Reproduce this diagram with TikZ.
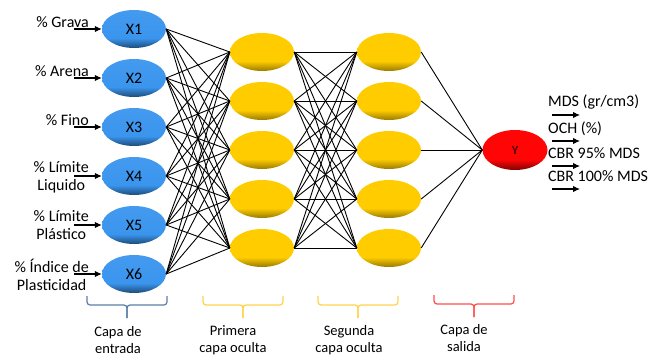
\documentclass[tikz,border=0pt]{standalone}
\usepackage{fontspec}
\setmainfont{Carlito}
\usetikzlibrary{arrows.meta,shapes.geometric}

\definecolor{inblue}{HTML}{3A95EE}
\definecolor{hidyellow}{HTML}{FFCC00}
\definecolor{outred}{HTML}{FF0505}
\definecolor{braceblue}{HTML}{5A7EA6}
\definecolor{braceyellow}{HTML}{FFD24D}
\definecolor{bracered}{HTML}{FF4D4D}

% flat fill with a darker rim at the bottom
\pgfdeclareverticalshading{bluebevel}{100bp}{color(0bp)=(inblue!50!black); color(25bp)=(inblue!50!black); color(38bp)=(inblue); color(75bp)=(inblue!95!white); color(100bp)=(inblue!95!white)}
\pgfdeclareverticalshading{yellowbevel}{100bp}{color(0bp)=(hidyellow!60!black); color(25bp)=(hidyellow!60!black); color(38bp)=(hidyellow); color(75bp)=(hidyellow); color(100bp)=(hidyellow)}
\pgfdeclareverticalshading{redbevel}{100bp}{color(0bp)=(outred!50!black); color(25bp)=(outred!50!black); color(38bp)=(outred); color(75bp)=(outred); color(100bp)=(outred)}

\tikzset{
    neuron/.style={shape=ellipse,inner sep=0pt,minimum width=64pt,minimum height=38pt,font=\fontsize{16}{18}\selectfont},
    inneuron/.style={neuron,shade,shading=bluebevel},
    hidneuron/.style={neuron,shade,shading=yellowbevel},
    outneuron/.style={neuron,shade,shading=redbevel},
    link/.style={draw=black,line width=0.9pt},
    feed/.style={line width=1.1pt,-{Latex[length=7pt,width=6.5pt]}},
    inlabel/.style={anchor=north east,inner sep=0pt,align=center,font=\fontsize{16}{18}\selectfont},
    outlabel/.style={anchor=base west,inner sep=0pt,font=\fontsize{16}{18}\selectfont},
    layerbrace/.style={line width=1.2pt,rounded corners=3pt},
    layerlabel/.style={align=center,inner sep=0pt}
}

\begin{document}
\begin{tikzpicture}[x=1pt,y=-1pt,font=\fontsize{14.5}{17.5}\selectfont]
    \useasboundingbox (0,0) rectangle (653,356);

    % input layer
    \node[inneuron] (x1) at (134,29) {X1};
    \node[inneuron] (x2) at (134,78) {X2};
    \node[inneuron] (x3) at (134,127) {X3};
    \node[inneuron] (x4) at (134,176) {X4};
    \node[inneuron] (x5) at (134,225) {X5};
    \node[inneuron] (x6) at (134,274) {X6};

    % first hidden layer
    \node[hidneuron] (h1) at (262,52) {};
    \node[hidneuron] (h2) at (262,101) {};
    \node[hidneuron] (h3) at (262,150) {};
    \node[hidneuron] (h4) at (262,199) {};
    \node[hidneuron] (h5) at (262,248) {};

    % second hidden layer
    \node[hidneuron] (k1) at (389,52) {};
    \node[hidneuron] (k2) at (389,101) {};
    \node[hidneuron] (k3) at (389,150) {};
    \node[hidneuron] (k4) at (389,199) {};
    \node[hidneuron] (k5) at (389,248) {};

    % output layer
    \node[outneuron,minimum width=65pt,minimum height=40pt,font=\fontsize{12.5}{14}\selectfont\bfseries,text=red!30!black] (y) at (515,150) {Y};

    % edges
    \foreach \i in {1,...,6}
        \foreach \j in {1,...,5}
            \path[link] (x\i.east) -- (h\j.west);
    \foreach \i in {1,...,5}
        \foreach \j in {1,...,5}
            \path[link] (h\i.east) -- (k\j.west);
    \foreach \i in {1,...,5}
        \path[link] (k\i.east) -- (y.west);

    % inputs
    \coordinate (g1) at (74,29);
    \coordinate (g2) at (74,78);
    \coordinate (g3) at (74,127);
    \coordinate (g4) at (74,176);
    \coordinate (g5) at (74,225);
    \coordinate (g6) at (74,274);
    \node[inlabel] (l1) at (89,16.5) {\% Grava};
    \node[inlabel] (l2) at (89,65.5) {\% Arena};
    \node[inlabel] (l3) at (89,114.5) {\% Fino};
    \node[inlabel] (l4) at (89,161) {\% Límite\\Liquido};
    \node[inlabel] (l5) at (89,210) {\% Límite\\Plástico};
    \node[inlabel] (l6) at (89,259) {\% Índice de\\Plasticidad};
    \path[feed] (g1) edge (x1.west);
    \path[feed] (g2) edge (x2.west);
    \path[feed] (g3) edge (x3.west);
    \path[feed] (g4) edge (x4.west);
    \path[feed] (g5) edge (x5.west);
    \path[feed] (g6) edge (x6.west);

    % outputs
    \coordinate (o1) at (552,115);
    \coordinate (o2) at (552,141);
    \coordinate (o3) at (552,166);
    \coordinate (o4) at (552,189);
    \coordinate (e1) at (580,115);
    \coordinate (e2) at (580,141);
    \coordinate (e3) at (580,166);
    \coordinate (e4) at (580,189);
    \node[outlabel] (m1) at (548,106) {MDS (gr/cm3)};
    \node[outlabel] (m2) at (548,133) {OCH (\%)};
    \node[outlabel] (m3) at (548,158) {CBR 95\% MDS};
    \node[outlabel] (m4) at (548,181) {CBR 100\% MDS};
    \path[feed] (o1) edge (e1);
    \path[feed] (o2) edge (e2);
    \path[feed] (o3) edge (e3);
    \path[feed] (o4) edge (e4);

    % braces
    \draw[layerbrace,braceblue] (87,296) -- (87,305) -- (127,305) -- (127,318);
    \draw[layerbrace,braceblue] (167,296) -- (167,305) -- (127,305) -- (127,318);
    \draw[layerbrace,braceyellow] (203,296) -- (203,305) -- (243,305) -- (243,318);
    \draw[layerbrace,braceyellow] (283,296) -- (283,305) -- (243,305) -- (243,318);
    \draw[layerbrace,braceyellow] (318,296) -- (318,305) -- (358,305) -- (358,318);
    \draw[layerbrace,braceyellow] (398,296) -- (398,305) -- (358,305) -- (358,318);
    \draw[layerbrace,bracered] (434,295) -- (434,304) -- (474,304) -- (474,317);
    \draw[layerbrace,bracered] (514,295) -- (514,304) -- (474,304) -- (474,317);

    % layer names
    \node[layerlabel] (c1) at (118,340) {Capa de\\entrada};
    \node[layerlabel] (c2) at (233,340) {Primera\\capa oculta};
    \node[layerlabel] (c3) at (349,340) {Segunda\\capa oculta};
    \node[layerlabel] (c4) at (464,338) {Capa de\\salida};
\end{tikzpicture}
\end{document}
